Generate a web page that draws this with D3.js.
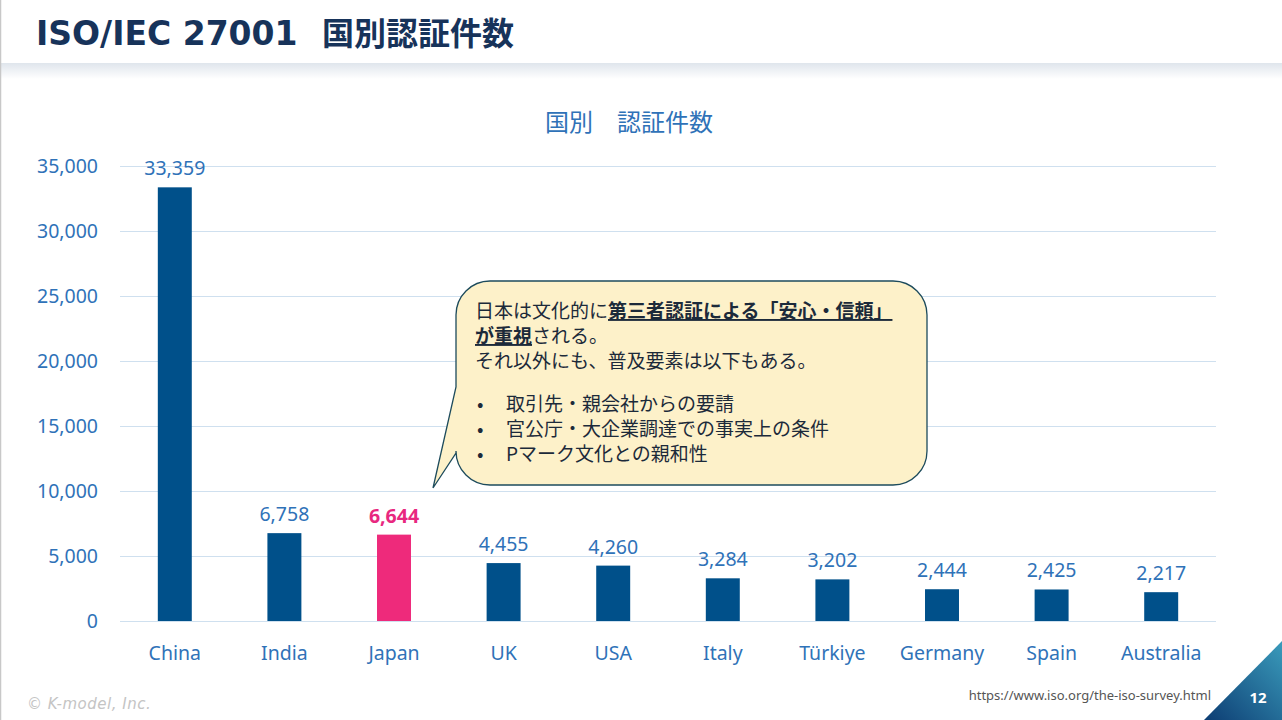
<!DOCTYPE html>
<html>
<head>
<meta charset="utf-8">
<script src="https://cdn.jsdelivr.net/npm/d3@7"></script>
<style>
  html, body { margin: 0; padding: 0; background: #fff; }
  svg { display: block; }
</style>
</head>
<body>
<svg id="chart" width="1282" height="720"></svg>
<script>
// data
var countries = ["China", "India", "Japan", "UK", "USA", "Italy", "Türkiye", "Germany", "Spain", "Australia"]
var counts = [33359, 6758, 6644, 4455, 4260, 3284, 3202, 2444, 2425, 2217]
var yTicks = [0, 5000, 10000, 15000, 20000, 25000, 30000, 35000]
var highlight = "Japan"

var calloutLines = [
    [{t: "日本は文化的に"}, {t: "第三者認証による「安心・信頼」", b: true}],
    [{t: "が重視", b: true}, {t: "される。"}],
    [{t: "それ以外にも、普及要素は以下もある。"}]
]
var calloutBullets = ["取引先・親会社からの要請", "官公庁・大企業調達での事実上の条件", "Pマーク文化との親和性"]

var W = 1282, H = 720
var jp = "'Noto Sans CJK JP', 'Noto Sans', sans-serif"
var latin = "'Noto Sans', 'Open Sans', sans-serif"
var blueText = "#2f72b8"

var svg = d3.select("#chart")

// header band + shadow
var defs = svg.append("defs")
var sh = defs.append("linearGradient").attr("id", "hdrShadow").attr("x1", 0).attr("y1", 0).attr("x2", 0).attr("y2", 1)
sh.append("stop").attr("offset", 0).attr("stop-color", "#dfe5ec")
sh.append("stop").attr("offset", 1).attr("stop-color", "#ffffff")
svg.append("rect").attr("x", 0).attr("y", 63).attr("width", W).attr("height", 16).attr("fill", "url(#hdrShadow)")
svg.append("line").attr("x1", 0.5).attr("x2", 0.5).attr("y1", 0).attr("y2", H).attr("stroke", "#c8c8c8").attr("stroke-width", 1.5)

var title = svg.append("text")
    .attr("y", 45)
    .attr("font-weight", 700)
    .attr("fill", "#17335a")
title.append("tspan").attr("x", 36).attr("font-family", "'DejaVu Sans', sans-serif").attr("font-size", 33).text("ISO/IEC 27001")
title.append("tspan").attr("x", 322).attr("font-family", jp).attr("font-size", 32).text("国別認証件数")

// chart
var x = d3.scaleBand().domain(countries).range([120, 1216]).paddingInner(0.69).paddingOuter(0.345)
var y = d3.scaleLinear().domain([0, 35000]).range([621, 166])

svg.append("text")
    .attr("x", 629).attr("y", 131).attr("text-anchor", "middle")
    .attr("font-family", jp).attr("font-size", 24).attr("fill", blueText)
    .text("国別\u3000認証件数")

var yAxis = svg.append("g").attr("transform", "translate(120,0)")
    .call(d3.axisLeft(y).tickValues(yTicks).tickSize(-1096).tickFormat(d3.format(",")))
yAxis.select(".domain").remove()
yAxis.selectAll(".tick line").attr("stroke", "#cfe0ef").attr("stroke-width", 1)
yAxis.selectAll(".tick text")
    .attr("x", -22)
    .attr("font-family", latin).attr("font-size", 19.5).attr("fill", blueText)

var xAxis = svg.append("g").attr("transform", "translate(0,621)")
    .call(d3.axisBottom(x).tickSize(0).tickPadding(25))
xAxis.select(".domain").remove()
xAxis.selectAll(".tick text")
    .attr("font-family", latin).attr("font-size", 19.5).attr("fill", blueText)

var rows = countries.map((c, i) => ({c: c, v: counts[i]}))

svg.append("g").selectAll("rect")
    .data(rows)
    .join("rect")
    .attr("x", d => x(d.c))
    .attr("width", x.bandwidth())
    .attr("y", d => y(d.v))
    .attr("height", d => y(0) - y(d.v))
    .attr("fill", d => d.c == highlight ? "#ee2a7b" : "#00508a")

svg.append("g").selectAll("text")
    .data(rows)
    .join("text")
    .attr("x", d => x(d.c) + x.bandwidth() / 2)
    .attr("y", d => y(d.v) - 12)
    .attr("text-anchor", "middle")
    .attr("font-family", latin).attr("font-size", 19.5)
    .attr("font-weight", d => d.c == highlight ? 700 : 400)
    .attr("fill", d => d.c == highlight ? "#e8287f" : blueText)
    .text(d => d3.format(",")(d.v))

// callout bubble
var bx = 456, by = 281, bw = 471, bh = 204, r = 34
var bubble = d3.path()
bubble.moveTo(bx + r, by)
bubble.lineTo(bx + bw - r, by)
bubble.arcTo(bx + bw, by, bx + bw, by + r, r)
bubble.lineTo(bx + bw, by + bh - r)
bubble.arcTo(bx + bw, by + bh, bx + bw - r, by + bh, r)
bubble.lineTo(bx + r, by + bh)
bubble.arcTo(bx, by + bh, bx, by + bh - r, r)
bubble.lineTo(bx, by + bh - 32)
bubble.lineTo(433, 488)
bubble.lineTo(bx, by + 106)
bubble.lineTo(bx, by + r)
bubble.arcTo(bx, by, bx + r, by, r)
bubble.closePath()
svg.append("path").attr("d", bubble.toString())
    .attr("fill", "#fdf1c9").attr("stroke", "#1d4b5c").attr("stroke-width", 1.3)

var cg = svg.append("g").attr("font-family", jp).attr("font-size", 19).attr("fill", "#1c2a3a")
calloutLines.forEach((line, i) => {
    var t = cg.append("text").attr("x", 475).attr("y", 318 + i * 25)
    line.forEach(seg => {
        t.append("tspan").attr("font-weight", seg.b ? 700 : 400)
            .attr("text-decoration", seg.b ? "underline" : null)
            .text(seg.t)
    })
})
calloutBullets.forEach((b, i) => {
    cg.append("text").attr("x", 477).attr("y", 411 + i * 25).text("•")
    cg.append("text").attr("x", 506).attr("y", 411 + i * 25).text(b)
})

// footer
svg.append("text").attr("x", 27).attr("y", 709)
    .attr("font-family", "'DejaVu Sans', sans-serif").attr("font-style", "italic")
    .attr("font-size", 15).attr("fill", "#c4c4c4").attr("letter-spacing", 0.5)
    .text("© K-model, Inc.")

svg.append("text").attr("x", 1211).attr("y", 700).attr("text-anchor", "end")
    .attr("font-family", latin).attr("font-size", 13).attr("fill", "#555")
    .text("https://www.iso.org/the-iso-survey.html")

var tg = defs.append("linearGradient").attr("id", "triGrad").attr("x1", 0).attr("y1", 1).attr("x2", 1).attr("y2", 0)
tg.append("stop").attr("offset", 0).attr("stop-color", "#0d3d73")
tg.append("stop").attr("offset", 1).attr("stop-color", "#3a9bbb")
svg.append("path").attr("d", "M1204,720L1282,641L1282,720Z").attr("fill", "url(#triGrad)")
svg.append("text").attr("x", 1258).attr("y", 703).attr("text-anchor", "middle")
    .attr("font-family", latin).attr("font-weight", 700).attr("font-size", 15).attr("fill", "#fff")
    .text("12")
</script>
</body>
</html>
